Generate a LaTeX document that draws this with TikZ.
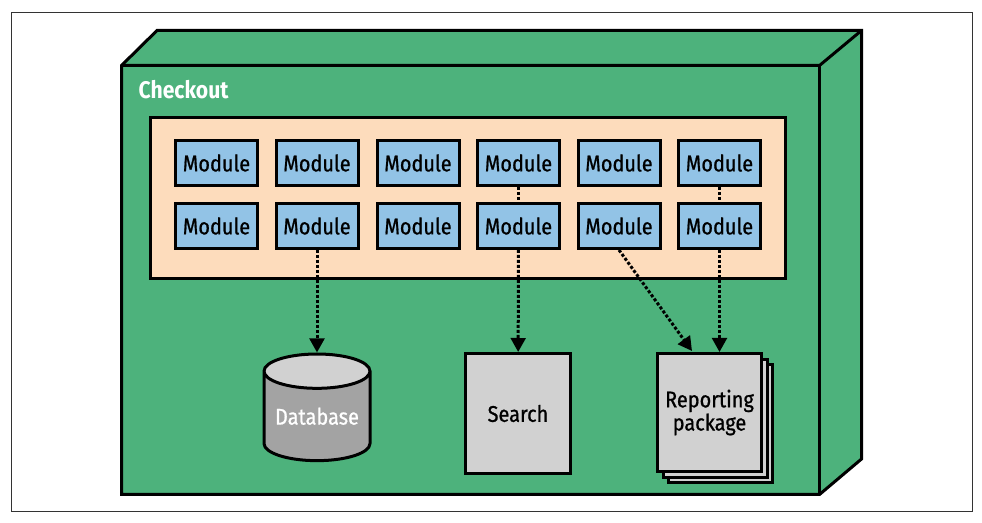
\documentclass[tikz,border=0pt]{standalone}
\usepackage{fontspec}
\setmainfont{Fira Sans}[FakeStretch=0.88]
\newfontfamily\labelfont{Fira Sans}[FakeStretch=0.88, FakeBold=0.8]
\usetikzlibrary{arrows.meta,shapes.geometric,shadows}
\definecolor{mygreen}{RGB}{77,178,124}
\definecolor{mypeach}{RGB}{253,220,188}
\definecolor{myblue}{RGB}{146,195,230}
\definecolor{mygray}{RGB}{209,209,209}
\definecolor{mydark}{RGB}{163,163,163}
\tikzset{
  box/.style={draw=black, line width=2.25pt, line join=miter},
  label text/.style={font=\labelfont\fontsize{17}{16}\selectfont},
  module/.style={box, fill=myblue, minimum width=61.5pt, minimum height=33.75pt,
    inner sep=0pt, label text},
  dep/.style={line width=2.25pt, dash pattern=on 2.25pt off 1.5pt},
  deparrow/.style={dep, -{Triangle[length=10.5pt,width=11pt]}}
}
\begin{document}
\begin{tikzpicture}[x=0.75pt,y=-0.75pt]
\useasboundingbox (0,0) rectangle (982,523);
\draw[line width=0.75pt, black!80] (11,13) rectangle (972,512);
% cube
\filldraw[box, fill=mygreen] (121.5,65.5) -- (157,30.5) -- (861.5,30.5) -- (861.5,459) -- (819.5,494.5) -- (121.5,494.5) -- cycle;
\draw[box] (121.5,65.5) -- (819.5,65.5) -- (861.5,30.5);
\draw[box] (819.5,65.5) -- (819.5,494.5);
\node[anchor=west, white, font=\bfseries\fontsize{18}{20}\selectfont] (checkout) at (134,90) {Checkout};
% modules
\filldraw[box, fill=mypeach] (150.5,117.5) rectangle (785.5,278.5);
\foreach \c/\x in {1/216.5,2/317,3/418,4/518.5,5/619,6/719.5} {
  \node[module] (m1\c) at (\x,163) {Module};
  \node[module] (m2\c) at (\x,226) {Module};
}
% targets
\node[shape=cylinder, shape border rotate=90, aspect=0.37, box,
  cylinder uses custom fill, cylinder body fill=mydark, cylinder end fill=mygray,
  minimum width=79.5pt, minimum height=80pt, text=white, anchor=north,
  text depth=6pt, label text] (db) at (317,352.5) {Database};
\node[box, fill=mygray, minimum width=78.75pt, minimum height=90pt,
  label text] (search) at (518,413.5) {Search};
\node[box, fill=mygray, minimum width=78pt, minimum height=88.5pt, align=center,
  double copy shadow={shadow xshift=4.2pt, shadow yshift=-4.2pt},
  label text] (rep) at (709.5,412.5) {Reporting\\package};
\coordinate (repin) at (692,351);
% connectors
\draw[dep] (m14) -- (m24);
\draw[dep] (m16) -- (m26);
\draw[deparrow] (m22) -- (db);
\draw[deparrow] (m24) -- (search);
\draw[deparrow] (m25.south) -- (repin);
\draw[deparrow] (m26) -- (m26 |- rep.north);
\end{tikzpicture}
\end{document}
